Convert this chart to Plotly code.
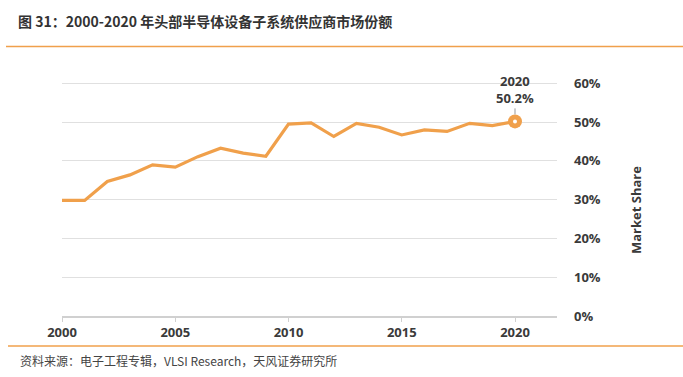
import plotly.graph_objects as go

years = list(range(2000, 2021))
share = [0.298, 0.298, 0.347, 0.364, 0.390, 0.384, 0.411, 0.433, 0.420, 0.412,
         0.495, 0.498, 0.463, 0.497, 0.487, 0.467, 0.480, 0.476, 0.497, 0.491, 0.502]
x_ticks = [2000, 2005, 2010, 2015, 2020]
y_ticks = [0, 0.1, 0.2, 0.3, 0.4, 0.5, 0.6]
y_labels = ["0%", "10%", "20%", "30%", "40%", "50%", "60%"]

title_text = "图 31：2000-2020 年头部半导体设备子系统供应商市场份额"
source_text = "资料来源：电子工程专辑，VLSI Research，天风证券研究所"

ORANGE = "#F0A04B"
DARK = "#3a3a3a"
FONT = "Open Sans, Noto Sans CJK SC, sans-serif"

W, H = 683, 377
L, R, T, B = 62, 126, 64, 61
pw, ph = W - L - R, H - T - B

def px(xp):
    return (xp - L) / pw

def py(yp):
    return (H - B - yp) / ph

fig = go.Figure()
fig.add_trace(go.Scatter(
    x=years, y=share, mode="lines",
    line=dict(color=ORANGE, width=3.2),
    hoverinfo="skip", showlegend=False))
fig.add_trace(go.Scatter(
    x=[years[-1]], y=[share[-1]], mode="markers",
    marker=dict(color=ORANGE, size=14, line=dict(width=0)),
    hoverinfo="skip", showlegend=False))
fig.add_trace(go.Scatter(
    x=[years[-1]], y=[share[-1]], mode="markers",
    marker=dict(color="white", size=4, line=dict(width=0)),
    hoverinfo="skip", showlegend=False))

fig.update_layout(
    width=W, height=H,
    margin=dict(l=L, r=R, t=T, b=B),
    paper_bgcolor="white", plot_bgcolor="white",
    font=dict(family=FONT, color=DARK),
    title=dict(text="<b>" + title_text + "</b>",
               font=dict(family="Noto Sans CJK SC, sans-serif", size=14, color="#333333"),
               x=18 / W, xanchor="left", xref="container",
               y=1 - 22 / H, yanchor="middle", yref="container"),
    xaxis=dict(range=[2000, 2000 + pw / 22.65], tickvals=x_ticks,
               ticktext=[str(v) for v in x_ticks],
               showgrid=False, zeroline=False,
               showline=True, linecolor="#d0d0d0", linewidth=1.5,
               ticks="outside", ticklen=4, tickcolor="#d0d0d0",
               tickfont=dict(family=FONT, size=13, color=DARK, weight="bold")),
    yaxis=dict(range=[0, 0.65], side="right", tickvals=y_ticks, ticktext=y_labels,
               showgrid=True, gridcolor="#e0e0e0", gridwidth=1,
               zeroline=False, showline=False, ticks="",
               ticklabelstandoff=16,
               tickfont=dict(family=FONT, size=13, color=DARK, weight="bold")),
)

fig.add_annotation(
    x=years[-1], y=share[-1], xref="x", yref="y",
    text="<b>%d<br>%.1f%%</b>" % (years[-1], share[-1] * 100),
    showarrow=True, arrowhead=0, arrowwidth=1, arrowcolor="#999999",
    ax=0, ay=-32, standoff=7,
    font=dict(family=FONT, size=13, color=DARK))

fig.add_annotation(
    x=px(647), y=py(210), xref="paper", yref="paper",
    text="<b>Market Share</b>", textangle=-90, showarrow=False,
    font=dict(family=FONT, size=13, color=DARK))

fig.add_annotation(
    x=px(18), y=py(360), xref="paper", yref="paper",
    xanchor="left", yanchor="middle",
    text=source_text, showarrow=False,
    font=dict(family="Noto Sans CJK SC, sans-serif", size=12, color="#444444"))

fig.add_shape(type="line", xref="paper", yref="paper",
              x0=px(6), x1=px(683), y0=py(46.5), y1=py(46.5),
              line=dict(color="#F0A04B", width=1.5))
fig.add_shape(type="line", xref="paper", yref="paper",
              x0=px(8), x1=px(683), y0=py(346), y1=py(346),
              line=dict(color="#F0A04B", width=1.5))

fig.write_html("out.html", config={"displayModeBar": False},
               post_script="document.body.style.margin='0';document.body.style.overflow='hidden';")
